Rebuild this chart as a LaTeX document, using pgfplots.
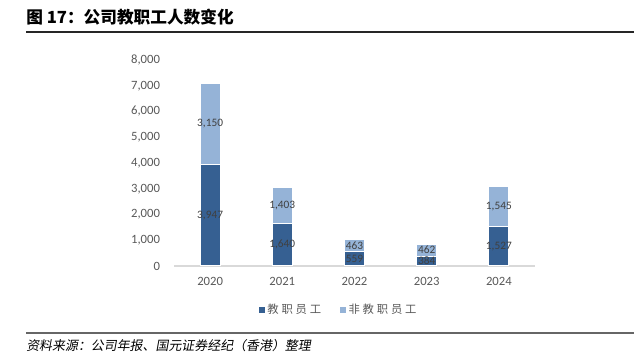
\documentclass[border=0pt]{standalone}
\usepackage{fontspec}
\setmainfont{Carlito}
\newfontfamily\cjk{Noto Sans CJK SC}
\newfontfamily\cjkit[FakeSlant=0.18]{Noto Sans CJK SC}
\newfontfamily\cjkleg[LetterSpace=25]{Noto Sans CJK SC}
\usepackage{pgfplots}
\pgfplotsset{compat=1.18}
\definecolor{dblue}{HTML}{366092}
\definecolor{lblue}{HTML}{95B3D7}
\definecolor{lab}{HTML}{404040}
\definecolor{tickc}{HTML}{595959}
\definecolor{basel}{HTML}{D9D9D9}
\pgfplotsset{
  common/.style={
    at={(130.5pt,72.75pt)}, anchor=south west,
    scale only axis, width=270.75pt, height=154.5pt,
    ymin=0, ymax=8000, xmin=-0.5, xmax=4.5,
  }
}
\begin{document}
\begin{tikzpicture}[x=0.75pt,y=0.75pt]
\useasboundingbox (0,0) rectangle (635,363);
\node[anchor=base west, inner sep=0] at (26,339) {\fontsize{12.5pt}{14pt}\selectfont\cjk\bfseries 图 17：公司教职工人数变化};
\draw[line width=0.9pt, color=black!85] (26,331) -- (634,331);
\draw[line width=0.9pt, color=black!60] (26,30) -- (634,30);
\node[anchor=base west, inner sep=0] at (26,12) {\fontsize{9.7pt}{12pt}\selectfont\cjkit 资料来源：公司年报、国元证券经纪（香港）整理};
\begin{axis}[
  common,
  ybar stacked, bar width=15pt,
  ytick={0,1000,...,8000},
  xtick={0,1,2,3,4},
  xticklabels={2020,2021,2022,2023,2024},
  axis x line*=bottom, axis y line*=left,
  y axis line style={draw=none},
  x axis line style={-, draw=basel, line width=0.9pt},
  major tick length=0pt,
  tick style={draw=none},
  /pgf/number format/assume math mode=true,
  /pgf/number format/1000 sep={,},
  scaled y ticks=false,
  ticklabel style={font=\fontsize{9.5pt}{11pt}\selectfont, text=tickc},
  yticklabel style={xshift=-7pt},
  xticklabel style={yshift=-5pt},
  legend columns=2,
  legend style={draw=none, at={(0.457,-0.214)}, anchor=center, font=\fontsize{8.5pt}{10pt}\selectfont\cjkleg, text=tickc, /tikz/every even column/.append style={column sep=12pt}},
  legend image code/.code={\path[#1,draw=none] (0pt,-2pt) rectangle (4.5pt,2.5pt);},
]
\addplot[fill=dblue, draw=white, line width=0.9pt] coordinates {(0,3947) (1,1640) (2,559) (3,384) (4,1527)};
\addplot[fill=lblue, draw=white, line width=0.9pt] coordinates {(0,3150) (1,1403) (2,463) (3,462) (4,1545)};
\legend{教职员工,非教职员工}
\end{axis}
\begin{axis}[
  common, hide axis,
  /pgf/number format/assume math mode=true,
  /pgf/number format/1000 sep={,},
  nodes near coords,
  point meta=explicit,
  every node near coord/.append style={anchor=center, font=\fontsize{8.5pt}{10pt}\selectfont, text=lab, /pgf/number format/assume math mode=true, /pgf/number format/1000 sep={,}},
]
\addplot[only marks, mark=none] coordinates {(0,1973.5) [3947] (1,820) [1640] (2,279.5) [559] (3,192) [384] (4,763.5) [1527]};
\addplot[only marks, mark=none] coordinates {(0,5522) [3150] (1,2341.5) [1403] (2,790.5) [463] (3,615) [462] (4,2299.5) [1545]};
\end{axis}
\end{tikzpicture}
\end{document}
